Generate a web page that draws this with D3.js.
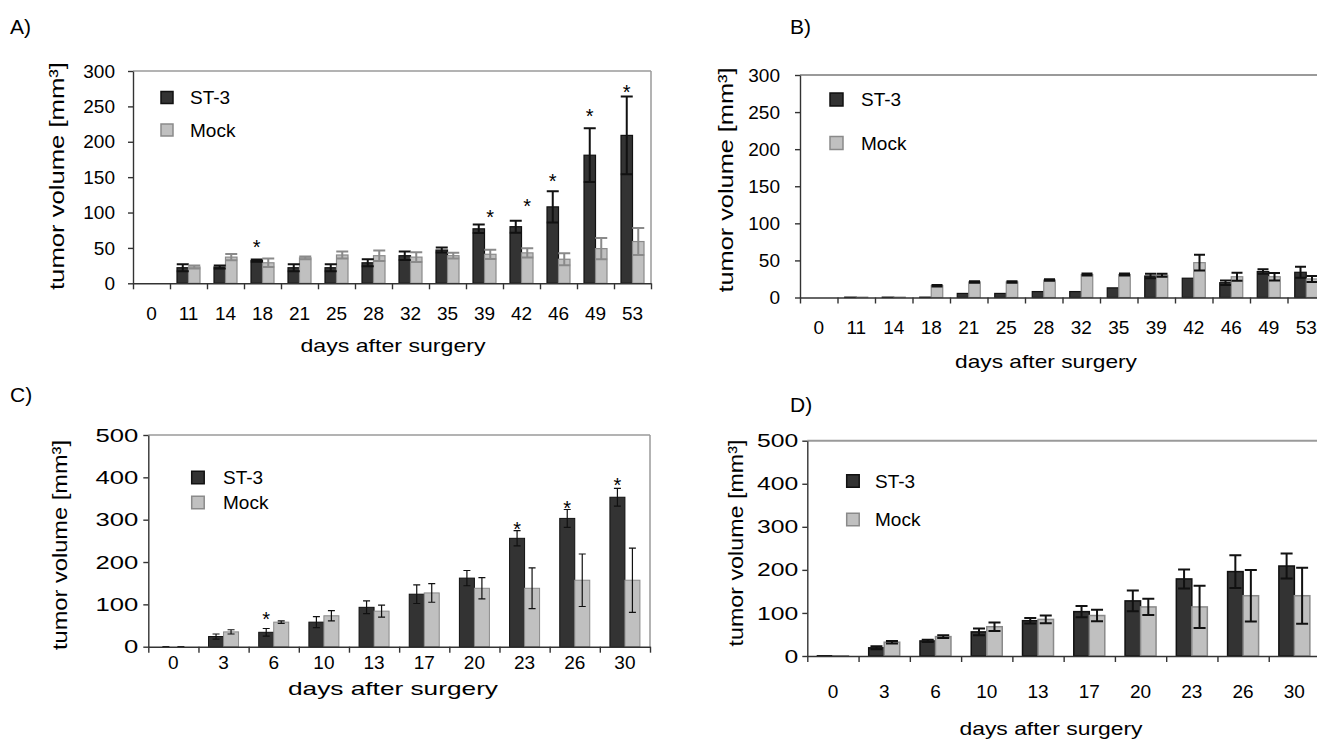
<!DOCTYPE html>
<html>
<head>
<meta charset="utf-8">
<script src="https://cdn.jsdelivr.net/npm/d3@7"></script>
<style>
  body { margin: 0; background: #fff; }
  svg { display: block; font-family: "Liberation Sans", Arial, sans-serif; }
</style>
</head>
<body>
<svg id="fig" width="1317" height="742"></svg>
<script>
// ---- data ----
const daysAB = ['0', '11', '14', '18', '21', '25', '28', '32', '35', '39', '42', '46', '49', '53'];
const daysCD = ['0', '3', '6', '10', '13', '17', '20', '23', '26', '30'];
const seriesNames = ['ST-3', 'Mock'];

// A)
const st3A = [null, 22, 23, 32, 22, 22, 29, 39, 47, 77, 80, 108, 181, 209];
const st3AErr = [0, 5, 2, 1.5, 5, 5, 5, 6, 3.5, 6, 8.5, 22, 38, 55];
const mockA = [null, 23, 37, 29, 36, 40, 39, 37, 39, 41, 43, 34, 49, 59];
const mockAErr = [0, 2, 4.5, 6, 2, 5, 7.5, 7, 4, 6.5, 6.5, 8.5, 15, 19];
const starDaysA = ['18', '39', '42', '46', '49', '53'];
const starSeriesA = [0, 1, 1, 0, 0, 0];
const starValA = [57, 100, 115, 151, 243, 276];

// B)
const st3B = [null, 0.5, 0.5, 0.5, 5.5, 5.5, 8, 8, 13, 29, 26, 20, 35, 34];
const st3BErr = [0, 0, 0, 0, 0, 0, 0, 0, 0, 3, 0, 3, 3, 7.5];
const mockB = [null, 0.5, 0.5, 16, 21, 21, 23.5, 31, 31, 30, 47, 28, 28, 25];
const mockBErr = [0, 0, 0, 1, 1, 1, 1, 1.5, 1.5, 2, 10.5, 5.5, 5, 4];

// C)
const st3C = [0, 24, 34, 58, 93, 124, 162, 256, 303, 353];
const st3CErr = [0.5, 6, 9, 13, 15, 22, 18, 18, 21, 21];
const mockC = [0, 35, 58, 73, 84, 127, 138, 138, 157, 157];
const mockCErr = [0.5, 5, 3, 12, 14, 22, 25, 48, 62, 76];
const starDaysC = ['6', '23', '26', '30'];
const starSeriesC = [0, 0, 0, 0];
const starValC = [75, 289, 339, 392];

// D)
const st3D = [0.5, 19, 35, 56, 82, 103, 128, 179, 196, 209];
const st3DErr = [0, 3.5, 2.5, 8, 6.5, 13, 24, 22, 38, 29];
const mockD = [0.5, 32, 45, 68, 85, 94, 114, 114, 140, 140];
const mockDErr = [0, 3, 3, 10, 9, 13.5, 19, 49, 60, 65];

const yTitle = 'tumor volume [mm³]';
const xTitle = 'days after surgery';

const svg = d3.select('#fig');

function drawPanel(p) {
  const g = svg.append('g');
  const n = p.days.length;
  const x = d3.scaleBand().domain(p.days).range([p.left, p.right]);
  const xEdge = d3.scaleLinear().domain([0, n]).range([p.left, p.right]);
  const y = d3.scaleLinear().domain([0, p.yMax]).range([p.bottom, p.top]);
  const bw = p.barW;

  // panel letter
  g.append('text').attr('x', p.label[1]).attr('y', p.label[2])
    .attr('font-size', 21).text(p.label[0]);

  // grey frame on top / right
  g.append('line').attr('x1', p.left).attr('x2', p.right)
    .attr('y1', y(p.yMax)).attr('y2', y(p.yMax))
    .attr('stroke', '#9a9a9a').attr('stroke-width', p.frameW);
  if (p.rightFrame) {
    g.append('line').attr('x1', p.right).attr('x2', p.right)
      .attr('y1', y(p.yMax)).attr('y2', y(0))
      .attr('stroke', '#9a9a9a').attr('stroke-width', p.frameW);
  }

  const series = [
    { vals: p.st3, errs: p.st3Err, fill: '#333333', stroke: '#111', err: '#111', off: -bw / 2 },
    { vals: p.mock, errs: p.mockErr, fill: '#c0c0c0', stroke: '#8a8a8a', err: p.mockErrColor, off: bw / 2 }
  ];
  const cx = (d, s) => x(d) + x.bandwidth() / 2 + series[s].off;

  series.forEach((s, si) => {
    const rows = p.days.map((d, i) => ({ d, v: s.vals[i] })).filter(r => r.v != null);
    g.selectAll(null).data(rows).join('rect')
      .attr('x', r => cx(r.d, si) - bw / 2)
      .attr('y', r => y(r.v))
      .attr('width', bw)
      .attr('height', r => y(0) - y(r.v))
      .attr('fill', s.fill)
      .attr('stroke', s.stroke)
      .attr('stroke-width', p.barStroke);
  });

  series.forEach((s, si) => {
    const rows = p.days.map((d, i) => ({ d, v: s.vals[i], e: s.errs[i] }))
      .filter(r => r.v != null && r.e > 0);
    const c = p.cap / 2;
    g.selectAll(null).data(rows).join('path')
      .attr('d', r => {
        const x0 = cx(r.d, si), y1 = y(r.v + r.e), y2 = y(Math.max(0, r.v - r.e));
        return `M${x0},${y1}V${y2}M${x0 - c},${y1}H${x0 + c}M${x0 - c},${y2}H${x0 + c}`;
      })
      .attr('fill', 'none')
      .attr('stroke', s.err)
      .attr('stroke-width', p.errW);
  });

  // significance stars
  if (p.starDays) {
    const rows = p.starDays.map((d, i) => ({ d, s: p.starSeries[i], v: p.starVals[i] }));
    g.selectAll(null).data(rows).join('text')
      .attr('x', r => cx(r.d, r.s))
      .attr('y', r => y(r.v) + 0.57 * 20)
      .attr('text-anchor', 'middle')
      .attr('font-size', 20)
      .text('*');
  }

  // axes
  const yAxis = g.append('g').attr('transform', `translate(${p.left},0)`)
    .call(d3.axisLeft(y).tickValues(d3.range(0, p.yMax + 1, p.yStep))
      .tickSize(5).tickSizeOuter(0).tickPadding(p.yPad));
  yAxis.attr('font-family', null).attr('font-size', p.yTickFont);
  yAxis.selectAll('path, line').attr('stroke', '#333').attr('stroke-width', 1.4);
  yAxis.selectAll('text').attr('fill', '#000');
  if (p.yTickStretch) {
    yAxis.selectAll('text').each(function () {
      const len = this.getComputedTextLength();
      d3.select(this).attr('textLength', len * p.yTickStretch).attr('lengthAdjust', 'spacingAndGlyphs');
    });
  }

  const xTicks = g.append('g').attr('transform', `translate(0,${y(0)})`)
    .call(d3.axisBottom(xEdge).tickValues(d3.range(0, n + 1)).tickFormat('')
      .tickSize(6).tickSizeOuter(0));
  xTicks.selectAll('path, line').attr('stroke', '#333').attr('stroke-width', 1.4);

  const xLabels = g.append('g').attr('transform', `translate(0,${y(0)})`)
    .call(d3.axisBottom(x).tickSize(0).tickPadding(p.xPad));
  xLabels.select('.domain').remove();
  xLabels.attr('font-family', null).attr('font-size', 19);
  xLabels.selectAll('text').attr('fill', '#000');

  // titles
  g.append('text').attr('x', p.xTitle[0]).attr('y', p.xTitle[1])
    .attr('text-anchor', 'middle').attr('font-size', 19)
    .attr('textLength', p.xTitle[2]).attr('lengthAdjust', 'spacingAndGlyphs')
    .text(xTitle);
  g.append('text')
    .attr('transform', `translate(${p.yTitle[0]},${p.yTitle[1]}) rotate(-90)`)
    .attr('text-anchor', 'middle').attr('dy', '0.35em').attr('font-size', 21)
    .attr('textLength', p.yTitle[2]).attr('lengthAdjust', 'spacingAndGlyphs')
    .text(yTitle);

  // legend
  const lg = p.legend;
  seriesNames.forEach((name, i) => {
    const cy = lg.ys[i];
    g.append('rect').attr('x', lg.x).attr('y', cy - lg.size / 2)
      .attr('width', lg.size).attr('height', lg.size)
      .attr('fill', series[i].fill).attr('stroke', series[i].stroke).attr('stroke-width', 1.5);
    g.append('text').attr('x', lg.tx).attr('y', cy).attr('dy', '0.35em')
      .attr('font-size', 19).text(name);
  });
}

drawPanel({
  label: ['A)', 10, 34],
  days: daysAB, st3: st3A, st3Err: st3AErr, mock: mockA, mockErr: mockAErr,
  starDays: starDaysA, starSeries: starSeriesA, starVals: starValA,
  left: 133, right: 651, top: 71, bottom: 283.3, yMax: 300, yStep: 50,
  barW: 11.5, barStroke: 1.2, cap: 12, errW: 2, mockErrColor: '#8a8a8a',
  frameW: 1.5, rightFrame: true, yPad: 13, xPad: 23, yTickFont: 19,
  xTitle: [393, 352, 185], yTitle: [57, 176, 228],
  legend: { x: 161, tx: 190, size: 12, ys: [97.5, 130] }
});

drawPanel({
  label: ['B)', 790, 34],
  days: daysAB, st3: st3B, st3Err: st3BErr, mock: mockB, mockErr: mockBErr,
  left: 800, right: 1325, top: 75, bottom: 297.5, yMax: 300, yStep: 50,
  barW: 11.5, barStroke: 1.2, cap: 11, errW: 2, mockErrColor: '#111',
  frameW: 2, rightFrame: false, yPad: 15, xPad: 23, yTickFont: 19,
  xTitle: [1046, 368, 182], yTitle: [726, 180, 225],
  legend: { x: 830, tx: 861, size: 13, ys: [99.5, 143] }
});

drawPanel({
  label: ['C)', 10, 402],
  days: daysCD, st3: st3C, st3Err: st3CErr, mock: mockC, mockErr: mockCErr,
  starDays: starDaysC, starSeries: starSeriesC, starVals: starValC,
  left: 148.3, right: 650, top: 435, bottom: 646.7, yMax: 500, yStep: 100,
  barW: 15, barStroke: 1, cap: 7, errW: 1.2, mockErrColor: '#111',
  frameW: 1.5, rightFrame: true, yPad: 5, xPad: 9, yTickFont: 19, yTickStretch: 1.35,
  xTitle: [393, 695, 210], yTitle: [60, 545, 210],
  legend: { x: 191.7, tx: 223, size: 12.5, ys: [477.5, 502.5] }
});

drawPanel({
  label: ['D)', 790, 412],
  days: daysCD, st3: st3D, st3Err: st3DErr, mock: mockD, mockErr: mockDErr,
  left: 807.3, right: 1320, top: 440.7, bottom: 656, yMax: 500, yStep: 100,
  barW: 15.5, barStroke: 1.5, cap: 12, errW: 2, mockErrColor: '#111',
  frameW: 2, rightFrame: false, yPad: 4, xPad: 29, yTickFont: 19, yTickStretch: 1.3,
  xTitle: [1051, 735, 183], yTitle: [736, 543, 207],
  legend: { x: 846.7, tx: 875, size: 12.5, ys: [481, 519.5] }
});
</script>
</body>
</html>
